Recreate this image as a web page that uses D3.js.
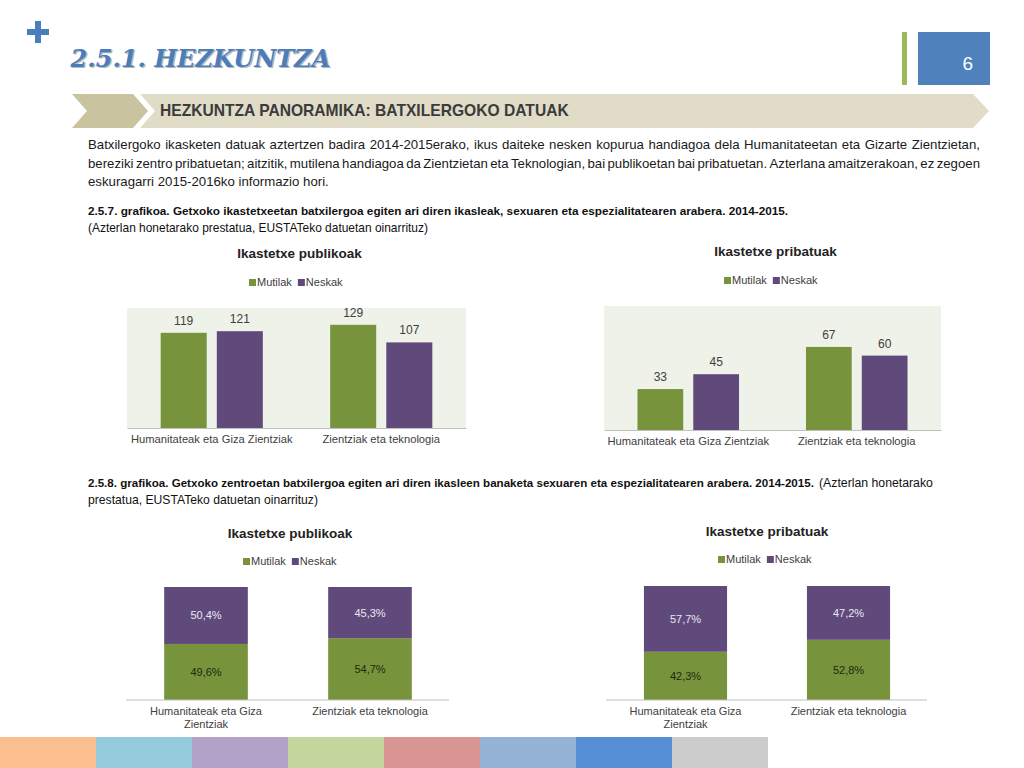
<!DOCTYPE html>
<html>
<head>
<meta charset="utf-8">
<script src="https://cdn.jsdelivr.net/npm/d3@7"></script>
<style>
  html, body { margin: 0; padding: 0; background: #fff; }
  svg { display: block; }
  text { font-family: "Liberation Sans", Arial, sans-serif; }
</style>
</head>
<body>
<svg id="page" width="1024" height="768"></svg>
<script>
// Categories and series
const categories = ['Humanitateak eta Giza Zientziak', 'Zientziak eta teknologia'];
const series = ['Mutilak', 'Neskak'];

// 2.5.7 counts
const publicBoys = [119, 129];
const publicGirls = [121, 107];
const privateBoys = [33, 67];
const privateGirls = [45, 60];

// 2.5.8 shares (%)
const publicBoysPct = [49.6, 54.7];
const publicGirlsPct = [50.4, 45.3];
const privateBoysPct = [42.3, 52.8];
const privateGirlsPct = [57.7, 47.2];

const stripColors = ['#fbbe8e', '#93cbdc', '#b2a2c7', '#c3d69b', '#d99594', '#95b3d7', '#558ed5', '#cccccc'];

const colors = { Mutilak: '#77933c', Neskak: '#604a7b' };
const textColor = '#404040';

const svg = d3.select('#page');

// pick the font size that makes a text as wide as in the original
function sizeTo(sel, width) {
  const base = +sel.attr('font-size');
  const w = sel.node().getComputedTextLength();
  sel.attr('font-size', (base * width / w).toFixed(2));
  return sel;
}

// Header
svg.append('path').attr('d', 'M35,21 h6 v8 h8 v6 h-8 v8 h-6 v-8 h-8 v-6 h8 Z').attr('fill', '#4a7ebb');

['#8a8a8a', '#4a7ebb'].forEach((fill, i) => {
  sizeTo(svg.append('text').attr('x', 72 - i * 1.5).attr('y', 68 - i * 1.5)
    .style('font-family', '"DejaVu Serif", serif').attr('font-size', 25)
    .attr('font-weight', 'bold').attr('font-style', 'italic')
    .attr('fill', fill).attr('opacity', i ? 1 : 0.6).text('2.5.1. HEZKUNTZA'), 260);
});

svg.append('rect').attr('x', 902).attr('y', 32).attr('width', 5).attr('height', 53).attr('fill', '#9bbb59');
svg.append('rect').attr('x', 918).attr('y', 32).attr('width', 72).attr('height', 53).attr('fill', '#4f81bd');
svg.append('text').attr('x', 973).attr('y', 70).attr('text-anchor', 'end')
  .attr('font-size', 19).attr('fill', '#fff').text('6');

// Banner
svg.append('path').attr('d', 'M140,94 L973,94 L989,111 L973,128 L140,128 L155,111 Z').attr('fill', '#e0dcc8');
svg.append('path').attr('d', 'M72,94 L133,94 L148,111 L133,128 L72,128 L87,111 Z').attr('fill', '#c9c39f');
sizeTo(svg.append('text').attr('x', 160).attr('y', 116)
  .attr('font-size', 15).attr('font-weight', 'bold').attr('fill', '#3b3b3b')
  .text('HEZKUNTZA PANORAMIKA: BATXILERGOKO DATUAK'), 409);

// Paragraph: justified by placing each word, one font size for all lines
const paraLines = [
  'Batxilergoko ikasketen datuak aztertzen badira 2014-2015erako, ikus daiteke nesken kopurua handiagoa dela Humanitateetan eta Gizarte Zientzietan,',
  'bereziki zentro pribatuetan; aitzitik, mutilena handiagoa da Zientzietan eta Teknologian, bai publikoetan bai pribatuetan. Azterlana amaitzerakoan, ez zegoen',
  'eskuragarri 2015-2016ko informazio hori.'
];
const paraLeft = 88;
const paraRight = 980;
const paraWidth = paraRight - paraLeft;
const minGap = 2.4;
let paraSize = 14.2;
const paraTexts = paraLines.map((line, i) => {
  const t = svg.append('text').attr('y', 149 + i * 18.5)
    .attr('font-size', paraSize).attr('fill', '#1a1a1a');
  const spans = line.split(' ').map((w) => t.append('tspan').text(w));
  return { t, spans, last: i === paraLines.length - 1 };
});
paraTexts.forEach(({ spans, last }) => {
  if (last) return;
  const total = d3.sum(spans, (s) => s.node().getComputedTextLength());
  const gaps = spans.length - 1;
  if (total + gaps * minGap > paraWidth) {
    paraSize = Math.min(paraSize, 14.2 * (paraWidth - gaps * minGap) / total);
  }
});
paraTexts.forEach(({ t, spans, last }) => {
  t.attr('font-size', paraSize.toFixed(2));
  const widths = spans.map((s) => s.node().getComputedTextLength());
  const gaps = spans.length - 1;
  const gap = last ? paraSize * 0.278 : (paraWidth - d3.sum(widths)) / gaps;
  let pos = paraLeft;
  spans.forEach((s, k) => {
    s.attr('x', pos.toFixed(2));
    pos += widths[k] + gap;
  });
});

// Captions
sizeTo(svg.append('text').attr('x', 88).attr('y', 215)
  .attr('font-size', 12).attr('font-weight', 'bold').attr('fill', '#111')
  .text('2.5.7. grafikoa.  Getxoko ikastetxeetan batxilergoa egiten ari diren ikasleak, sexuaren eta espezialitatearen arabera. 2014-2015.'), 700);
sizeTo(svg.append('text').attr('x', 88).attr('y', 232)
  .attr('font-size', 12).attr('fill', '#111')
  .text('(Azterlan honetarako prestatua, EUSTATeko datuetan oinarrituz)'), 340);

sizeTo(svg.append('text').attr('x', 88).attr('y', 487)
  .attr('font-size', 12).attr('font-weight', 'bold').attr('fill', '#111')
  .text('2.5.8. grafikoa. Getxoko zentroetan batxilergoa egiten ari diren ikasleen banaketa sexuaren eta espezialitatearen arabera. 2014-2015.'), 726);
sizeTo(svg.append('text').attr('x', 819).attr('y', 487)
  .attr('font-size', 12).attr('fill', '#111')
  .text('(Azterlan honetarako'), 114);
sizeTo(svg.append('text').attr('x', 88).attr('y', 504)
  .attr('font-size', 12).attr('fill', '#111')
  .text('prestatua, EUSTATeko datuetan oinarrituz)'), 230);

// Shared pieces
function chartTitle(cx, y, text) {
  svg.append('text').attr('x', cx).attr('y', y).attr('text-anchor', 'middle')
    .attr('font-size', 13.5).attr('font-weight', 'bold')
    .attr('fill', '#222').text(text);
}

function legend(x, y) {
  const g = svg.append('g').attr('transform', `translate(${x},${y})`);
  let offset = 0;
  series.forEach((s) => {
    g.append('rect').attr('x', offset).attr('y', -7).attr('width', 7).attr('height', 7).attr('fill', colors[s]);
    const t = g.append('text').attr('x', offset + 8).attr('y', 0)
      .attr('font-size', 11).attr('fill', textColor).text(s);
    offset += 8 + t.node().getComputedTextLength() + 6;
  });
}

function grouped({ box, boys, girls, max, name, titleY, legendX, legendY }) {
  const [x0, y0, x1, y1] = box;
  svg.append('rect').attr('x', x0).attr('y', y0).attr('width', x1 - x0).attr('height', y1 - y0).attr('fill', '#eef2e8');

  const x = d3.scaleBand().domain(categories).range([x0, x1]);
  const xs = d3.scaleBand().domain(series).range([0, x.bandwidth()]).paddingInner(0.18).paddingOuter(0.6);
  const y = d3.scaleLinear().domain([0, max]).range([y1, y0]);

  const rows = categories.map((c, i) => ({ c, Mutilak: boys[i], Neskak: girls[i] }));
  const g = svg.append('g');
  rows.forEach((r) => {
    series.forEach((s) => {
      g.append('rect').attr('x', x(r.c) + xs(s)).attr('y', y(r[s]))
        .attr('width', xs.bandwidth()).attr('height', y1 - y(r[s])).attr('fill', colors[s]);
      g.append('text').attr('x', x(r.c) + xs(s) + xs.bandwidth() / 2).attr('y', y(r[s]) - 8)
        .attr('text-anchor', 'middle').attr('font-size', 12)
        .attr('fill', textColor).text(r[s]);
    });
  });

  const axis = svg.append('g').attr('transform', `translate(0,${y1})`)
    .call(d3.axisBottom(x).tickSize(0).tickPadding(7));
  axis.select('.domain').attr('stroke', '#bfbfbf');
  axis.selectAll('text').attr('font-size', 11.2).attr('fill', textColor)
    .style('font-family', '"Liberation Sans", Arial, sans-serif');

  chartTitle((x0 + x1) / 2 + 3, titleY, name);
  legend(legendX, legendY);
}

function stacked({ box, boys, girls, name, titleX, titleY, legendX, legendY }) {
  const [x0, y0, x1, y1] = box;
  const x = d3.scaleBand().domain(categories).range([x0, x1]).paddingInner(0.49).paddingOuter(0.245);
  const y = d3.scaleLinear().domain([0, 100]).range([y1, y0]);

  const rows = categories.map((c, i) => ({ c, Mutilak: boys[i], Neskak: girls[i] }));
  const stack = d3.stack().keys(series)(rows);
  const g = svg.append('g');
  stack.forEach((layer) => {
    layer.forEach((d) => {
      const cx = x(d.data.c) + x.bandwidth() / 2;
      g.append('rect').attr('x', x(d.data.c)).attr('y', y(d[1]))
        .attr('width', x.bandwidth()).attr('height', y(d[0]) - y(d[1])).attr('fill', colors[layer.key]);
      g.append('text').attr('x', cx).attr('y', (y(d[0]) + y(d[1])) / 2 + 4)
        .attr('text-anchor', 'middle').attr('font-size', 11)
        .attr('fill', layer.key === 'Neskak' ? '#ebe7f0' : '#1e2a10')
        .text(d3.format('.1f')(d.data[layer.key]).replace('.', ',') + '%');
    });
  });

  svg.append('line').attr('x1', x0 + 2).attr('x2', x1 - 3).attr('y1', y1).attr('y2', y1).attr('stroke', '#bfbfbf');

  // Category labels wrapped like the original
  const wrapped = {
    'Humanitateak eta Giza Zientziak': ['Humanitateak eta Giza', 'Zientziak'],
    'Zientziak eta teknologia': ['Zientziak eta teknologia']
  };
  categories.forEach((c) => {
    const t = svg.append('text').attr('font-size', 11).attr('fill', textColor)
      .attr('text-anchor', 'middle');
    wrapped[c].forEach((part, k) => {
      t.append('tspan').attr('x', x(c) + x.bandwidth() / 2).attr('y', y1 + 15 + k * 13).text(part);
    });
  });

  chartTitle(titleX, titleY, name);
  legend(legendX, legendY);
}

grouped({ box: [127, 308, 466, 428], boys: publicBoys, girls: publicGirls, max: 150,
  name: 'Ikastetxe publikoak', titleY: 258, legendX: 249, legendY: 286 });
grouped({ box: [604, 306, 941, 430], boys: privateBoys, girls: privateGirls, max: 100,
  name: 'Ikastetxe pribatuak', titleY: 256, legendX: 724, legendY: 284 });

stacked({ box: [124, 587, 452, 700], boys: publicBoysPct, girls: publicGirlsPct,
  name: 'Ikastetxe publikoak', titleX: 290, titleY: 538, legendX: 243, legendY: 565 });
stacked({ box: [604, 586, 930, 700], boys: privateBoysPct, girls: privateGirlsPct,
  name: 'Ikastetxe pribatuak', titleX: 767, titleY: 536, legendX: 718, legendY: 563 });

// Bottom colour strip
const sx = d3.scaleBand().domain(d3.range(stripColors.length)).range([0, 768]);
svg.append('g').selectAll('rect').data(stripColors).join('rect')
  .attr('x', (_, i) => sx(i)).attr('y', 737).attr('width', sx.bandwidth()).attr('height', 31)
  .attr('fill', (d) => d);
</script>
</body>
</html>
